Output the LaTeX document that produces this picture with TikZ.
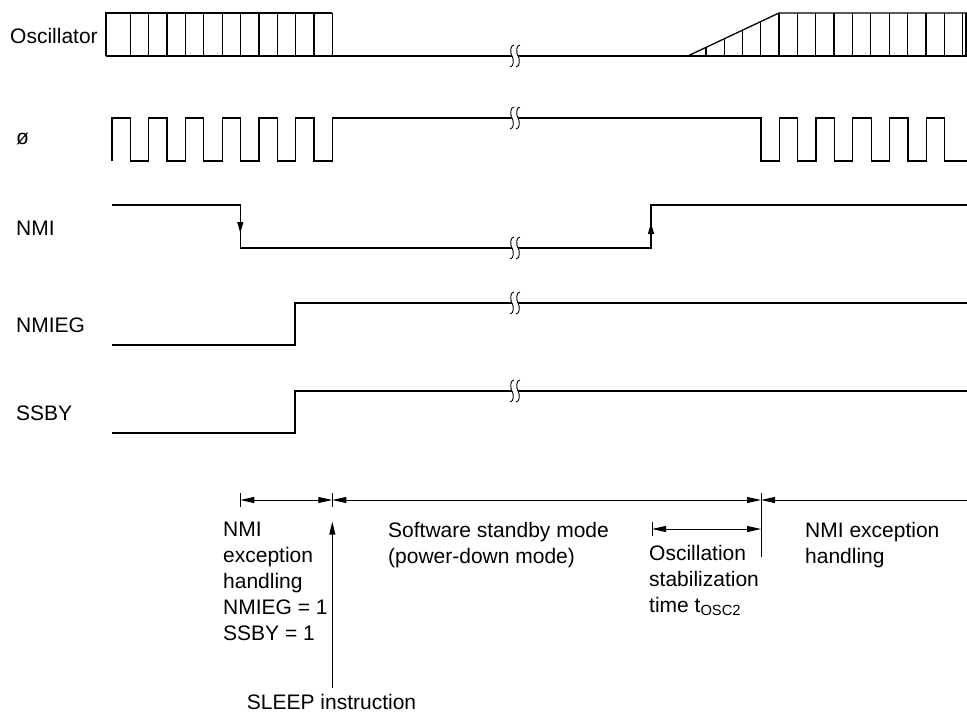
\documentclass[tikz,border=0pt]{standalone}
\usepackage{fontspec}
\setmainfont{Liberation Sans}
\usetikzlibrary{arrows.meta}

\begin{document}
\begin{tikzpicture}[
    x=1pt, y=-1pt,
    sig/.style={line width=1.3pt},
    dim/.style={line width=1pt},
    lbl/.style={font=\fontsize{21}{26}\selectfont, inner sep=0pt},
    txt/.style={lbl, align=left, anchor=north west},
    tip/.style={-{Triangle[length=11pt,width=6pt]}},
    dimtips/.style={{Triangle[length=14pt,width=6pt]}-{Triangle[length=14pt,width=6pt]}},
    sigbreak/.pic={
        \fill[white] (-3,-2.5) rectangle (3,2.5);
        \draw[line width=0.9pt] (-1,-11) .. controls (-5,-11) and (-5,-3) .. (-3,0) .. controls (-1,3) and (-1,11) .. (-5,11);
        \draw[line width=0.9pt] (5,-11) .. controls (1,-11) and (1,-3) .. (3,0) .. controls (5,3) and (5,11) .. (1,11);
    }
]
\useasboundingbox (0,0) rectangle (967,712);

% Signal names
\node[lbl, anchor=base west] (osc) at (10,43) {Oscillator};
\node[lbl, anchor=base west] (phi) at (16,144) {ø};
\node[lbl, anchor=base west] (nmi) at (16,235) {NMI};
\node[lbl, anchor=base west] (nmieg) at (16,332) {NMIEG};
\node[lbl, anchor=base west] (ssby) at (16,420) {SSBY};

% Oscillator
\draw[sig] (106,56) -- (967,56);
\draw[sig] (106,56) -- (106,13) -- (332.3,13);
\foreach \k in {1,...,12}
    \draw[sig] ({112+18.36*\k},13) -- ++(0,43);
\draw[sig] (687.7,56) -- (779,13) -- (967,13);
\foreach \k in {1,...,4}
    \draw[sig] ({687.7+18.26*\k},56) -- ({687.7+18.26*\k},{56-8.6*\k});
\foreach \k in {0,...,10}
    \draw[sig] ({779+18.36*\k},13) -- ++(0,43);
\draw[sig] (966,13) -- (966,56);
\pic at (515,56) {sigbreak};

% Clock
\draw[sig] (112,161) \foreach \k in {0,...,5} { -- ++(0,-43) -- ++(18.36,0) -- ++(0,43) -- ++(18.36,0) }
    -- ++(0,-43) -- (761,118)
    \foreach \k in {0,...,4} { -- ++(0,43) -- ++(18.36,0) -- ++(0,-43) -- ++(18.36,0) }
    -- ++(0,43) -- (967,161);
\pic at (515,118) {sigbreak};

% NMI
\draw[sig] (112,205) -- (240.3,205) -- (240.3,248) -- (651,248) -- (651,205) -- (967,205);
\draw[sig, tip] (240.3,214) -- (240.3,233);
\draw[sig, tip] (651,242) -- (651,223);
\pic at (515,248) {sigbreak};

% NMIEG
\draw[sig] (112,345) -- (295,345) -- (295,303) -- (967,303);
\pic at (515,303) {sigbreak};

% SSBY
\draw[sig] (112,433) -- (295,433) -- (295,391) -- (967,391);
\pic at (515,391) {sigbreak};

% Periods
\coordinate (pstart) at (240.3,500);
\coordinate (psleep) at (332.3,500);
\coordinate (pwake) at (761,500);
\coordinate (pend) at (967,500);
\draw[dim] (240.3,493) -- (240.3,507);
\draw[dim] (332.3,493) -- (332.3,507);
\draw[dim] (761,493) -- (761,557);
\draw[dim, dimtips] (pstart) -- (psleep);
\draw[dim, dimtips] (psleep) -- (pwake);
\draw[dim, {Triangle[length=14pt,width=6pt]}-] (pwake) -- (pend);
\coordinate (ostart) at (652,529);
\coordinate (oend) at (761,529);
\draw[dim] (652,522) -- (652,536);
\draw[dim, dimtips] (ostart) -- (oend);

% Texts
\node[txt] (exc) at (223,522) {NMI\\exception\\handling\\NMIEG = 1\\SSBY = 1};
\node[txt] (stby) at (388,522) {Software standby mode\\(power-down mode)};
\node[txt] (stab) at (649,545) {Oscillation\\stabilization\\time t\textsubscript{OSC2}};
\node[txt] (exc2) at (805,522) {NMI exception\\handling};
\node[lbl, anchor=base west] (sleep) at (246.7,709) {SLEEP instruction};
\draw[dim, -{Triangle[length=13pt,width=6pt]}] (332.3,688) -- (332.3,521.7);
\end{tikzpicture}
\end{document}
